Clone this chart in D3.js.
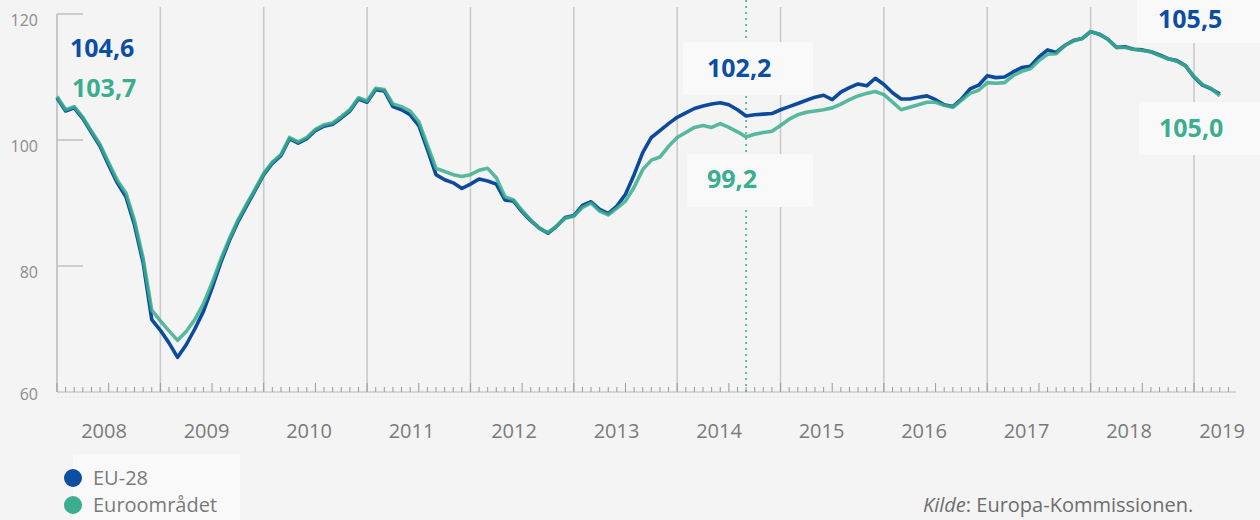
<!DOCTYPE html>
<html>
<head>
<meta charset="utf-8">
<script src="https://cdn.jsdelivr.net/npm/d3@7"></script>
<style>
  html, body { margin: 0; padding: 0; background: #f4f4f4; }
  svg { display: block; font-family: "Open Sans", sans-serif; }
</style>
</head>
<body>
<div id="chart"></div>
<script>
// monthly values, Jan 2008 .. Apr 2019
const startYear = 2008;
const eu28 = [
  106.7, 104.6, 105.1, 103.4, 101.2, 99.0, 96.0, 93.2, 91.0, 86.5, 80.5, 71.5,
  69.8, 67.8, 65.5, 67.5, 70.0, 72.8, 76.5, 80.5, 84.0, 87.0, 89.5, 92.0,
  94.5, 96.3, 97.5, 100.2, 99.5, 100.2, 101.5, 102.2, 102.5, 103.5, 104.6, 106.5,
  106.0, 108.0, 107.8, 105.3, 104.8, 104.0, 102.3, 98.5, 94.5, 93.7, 93.2, 92.3,
  93.0, 93.8, 93.5, 93.0, 90.5, 90.3, 88.6, 87.2, 86.0, 85.2, 86.3, 87.7,
  88.0, 89.6, 90.2, 89.0, 88.3, 89.5, 91.4, 94.5, 98.0, 100.4, 101.5, 102.6,
  103.6, 104.3, 105.0, 105.4, 105.7, 105.9, 105.6, 104.8, 103.8, 104.0, 104.1, 104.2,
  104.8, 105.3, 105.8, 106.3, 106.8, 107.1, 106.4, 107.6, 108.3, 108.9, 108.6, 109.8,
  108.8, 107.5, 106.5, 106.5, 106.8, 107.0, 106.4, 105.6, 105.3, 106.5, 108.1, 108.7,
  110.2, 109.9, 110.0, 110.8, 111.5, 111.7, 113.2, 114.3, 113.9, 115.0, 115.8, 116.1,
  117.2, 116.8, 116.0, 114.7, 114.8, 114.4, 114.3, 114.0, 113.5, 112.9, 112.6, 111.8,
  110.0, 108.7, 108.1, 107.3
];
const euroArea = [
  106.9, 104.8, 105.3, 103.6, 101.4, 99.3, 96.4, 93.6, 91.6, 87.2, 81.2, 73.0,
  71.3, 69.7, 68.2, 69.6, 71.5, 74.0, 77.3, 81.0, 84.3, 87.3, 89.8, 92.2,
  94.7, 96.5, 97.7, 100.4, 99.7, 100.4, 101.7, 102.4, 102.7, 103.7, 104.8, 106.7,
  106.2, 108.2, 108.0, 105.7, 105.3, 104.6, 102.9, 99.2, 95.5, 95.0, 94.5, 94.2,
  94.5, 95.2, 95.5, 94.0, 91.0, 90.5, 88.8, 87.3, 86.0, 85.3, 86.3, 87.6,
  87.9, 89.3, 90.0, 88.7, 88.1, 89.2, 90.3, 92.5, 95.3, 96.8, 97.3, 99.0,
  100.4, 101.2, 102.0, 102.3, 102.0, 102.6, 102.0, 101.3, 100.5, 100.9, 101.2, 101.4,
  102.3, 103.3, 104.0, 104.4, 104.6, 104.8, 105.1, 105.7, 106.4, 107.0, 107.4, 107.7,
  107.2, 106.0, 104.8, 105.2, 105.6, 106.0, 106.0, 105.5, 105.2, 106.3, 107.4, 107.9,
  109.1, 109.0, 109.1, 110.2, 110.9, 111.3, 112.6, 113.6, 113.7, 115.0, 115.7, 116.1,
  117.2, 116.8, 116.0, 114.7, 114.7, 114.4, 114.2, 114.0, 113.4, 112.9, 112.5, 111.8,
  110.1, 108.8, 108.2, 107.0
];
const years = [2008, 2009, 2010, 2011, 2012, 2013, 2014, 2015, 2016, 2017, 2018, 2019];
const yTicks = [60, 80, 100, 120];
const seriesNames = ["EU-28", "Euroområdet"];
const colors = ["#0d4a9b", "#3aae8e"];
const markerMonth = 80; // Sep 2014
const annotations = [
  { text: "104,6", s: 0, x: 70, y: 57 },
  { text: "103,7", s: 1, x: 72, y: 97 },
  { text: "102,2", s: 0, x: 707, y: 77, box: [683, 42, 130, 53] },
  { text: "99,2", s: 1, x: 707, y: 188, box: [687, 154, 126, 53] },
  { text: "105,5", s: 0, x: 1158, y: 28, box: [1137, 0, 123, 43] },
  { text: "105,0", s: 1, x: 1159, y: 137, box: [1139, 102, 121, 53] }
];

const width = 1260, height = 520;
const svg = d3.select("#chart").append("svg")
  .attr("width", width)
  .attr("height", height);

svg.append("rect").attr("width", width).attr("height", height).attr("fill", "#f4f4f4");

// month index -> x
const x = d3.scaleLinear().domain([0, 132]).range([57, 1194]);
const y = d3.scaleLinear().domain([60, 120]).range([392, 14]);
const labelX = d3.scaleLinear().domain([2008, 2018]).range([104, 1129]);

// vertical year gridlines
svg.append("g")
  .selectAll("line")
  .data(years.map((yr, i) => i * 12).slice(1))
  .join("line")
  .attr("x1", d => x(d)).attr("x2", d => x(d))
  .attr("y1", 7).attr("y2", 392)
  .attr("stroke", "#cacaca")
  .attr("stroke-width", 1.6);

// dotted marker
svg.append("line")
  .attr("x1", x(markerMonth)).attr("x2", x(markerMonth))
  .attr("y1", 0).attr("y2", 392)
  .attr("stroke", colors[1])
  .attr("stroke-width", 2)
  .attr("stroke-dasharray", "2,4")
  .attr("opacity", 0.8);

// annotation boxes cover the grid
svg.append("g")
  .selectAll("rect")
  .data(annotations.filter(d => d.box))
  .join("rect")
  .attr("x", d => d.box[0]).attr("y", d => d.box[1])
  .attr("width", d => d.box[2]).attr("height", d => d.box[3])
  .attr("fill", "#f9f9f9");

// left axis
svg.append("line")
  .attr("x1", 57).attr("x2", 57)
  .attr("y1", y(120)).attr("y2", y(60))
  .attr("stroke", "#bdbdbd").attr("stroke-width", 1.6);

svg.append("g")
  .selectAll("line")
  .data(yTicks.slice(1))
  .join("line")
  .attr("x1", 57).attr("x2", 83)
  .attr("y1", d => y(d)).attr("y2", d => y(d))
  .attr("stroke", "#c4c4c4").attr("stroke-width", 1.6);

svg.append("g")
  .selectAll("text")
  .data(yTicks)
  .join("text")
  .attr("x", 38)
  .attr("y", d => y(d) + (d === 60 ? 8 : 12))
  .attr("text-anchor", "end")
  .attr("font-size", 16)
  .attr("fill", "#8c8c8c")
  .text(d => d);

// bottom axis with monthly ticks
const tickMonths = d3.range(0, 137);
svg.append("line")
  .attr("x1", 57).attr("x2", 1236)
  .attr("y1", 392).attr("y2", 392)
  .attr("stroke", "#b5b5b5").attr("stroke-width", 1.2);
svg.append("line")
  .attr("x1", 57).attr("x2", 1236)
  .attr("y1", 397).attr("y2", 397)
  .attr("stroke", "#e2e2e2").attr("stroke-width", 1)
  .attr("stroke-dasharray", "2,2");
svg.append("g")
  .selectAll("line")
  .data(tickMonths)
  .join("line")
  .attr("x1", d => x(d)).attr("x2", d => x(d))
  .attr("y1", d => 392 - (d % 6 === 0 ? 9 : 5)).attr("y2", 392)
  .attr("stroke", "#9a9a9a").attr("stroke-width", 1);

svg.append("g")
  .selectAll("text")
  .data(years)
  .join("text")
  .attr("x", d => Math.min(labelX(d), 1222))
  .attr("y", 438)
  .attr("text-anchor", "middle")
  .attr("font-size", 20)
  .attr("fill", "#7a7a7a")
  .text(d => d);

// lines
const line = d3.line()
  .x((d, i) => x(i))
  .y(d => y(d))
  .curve(d3.curveLinear);

svg.append("path")
  .datum(eu28)
  .attr("d", line)
  .attr("fill", "none")
  .attr("stroke", colors[0])
  .attr("stroke-width", 3.6)
  .attr("stroke-linejoin", "round");

svg.append("path")
  .datum(euroArea)
  .attr("d", line)
  .attr("fill", "none")
  .attr("stroke", colors[1])
  .attr("stroke-width", 3.6)
  .attr("stroke-linejoin", "round")
  .attr("opacity", 0.85);

// value labels
svg.append("g")
  .selectAll("text")
  .data(annotations)
  .join("text")
  .attr("x", d => d.x).attr("y", d => d.y)
  .attr("font-size", 25)
  .attr("font-weight", 700)
  .attr("fill", d => d.s === 0 ? "#0b4ea2" : colors[1])
  .text(d => d.text);

// legend
const legend = svg.append("g");
legend.append("rect")
  .attr("x", 73).attr("y", 454).attr("width", 167).attr("height", 66)
  .attr("fill", "#f9f9f9");
const items = legend.selectAll("g")
  .data(seriesNames)
  .join("g")
  .attr("transform", (d, i) => `translate(73, ${478 + i * 27})`);
items.append("circle").attr("r", 9).attr("fill", (d, i) => i === 0 ? "#0b4ea2" : colors[1]);
items.append("text")
  .attr("x", 20).attr("y", 7)
  .attr("font-size", 20)
  .attr("fill", "#7a7a7a")
  .text(d => d);

// source
const src = svg.append("text")
  .attr("x", 923).attr("y", 512)
  .attr("font-size", 20)
  .attr("fill", "#6e6e6e");
src.append("tspan").attr("font-style", "italic").text("Kilde");
src.append("tspan").text(": Europa-Kommissionen.");
</script>
</body>
</html>
